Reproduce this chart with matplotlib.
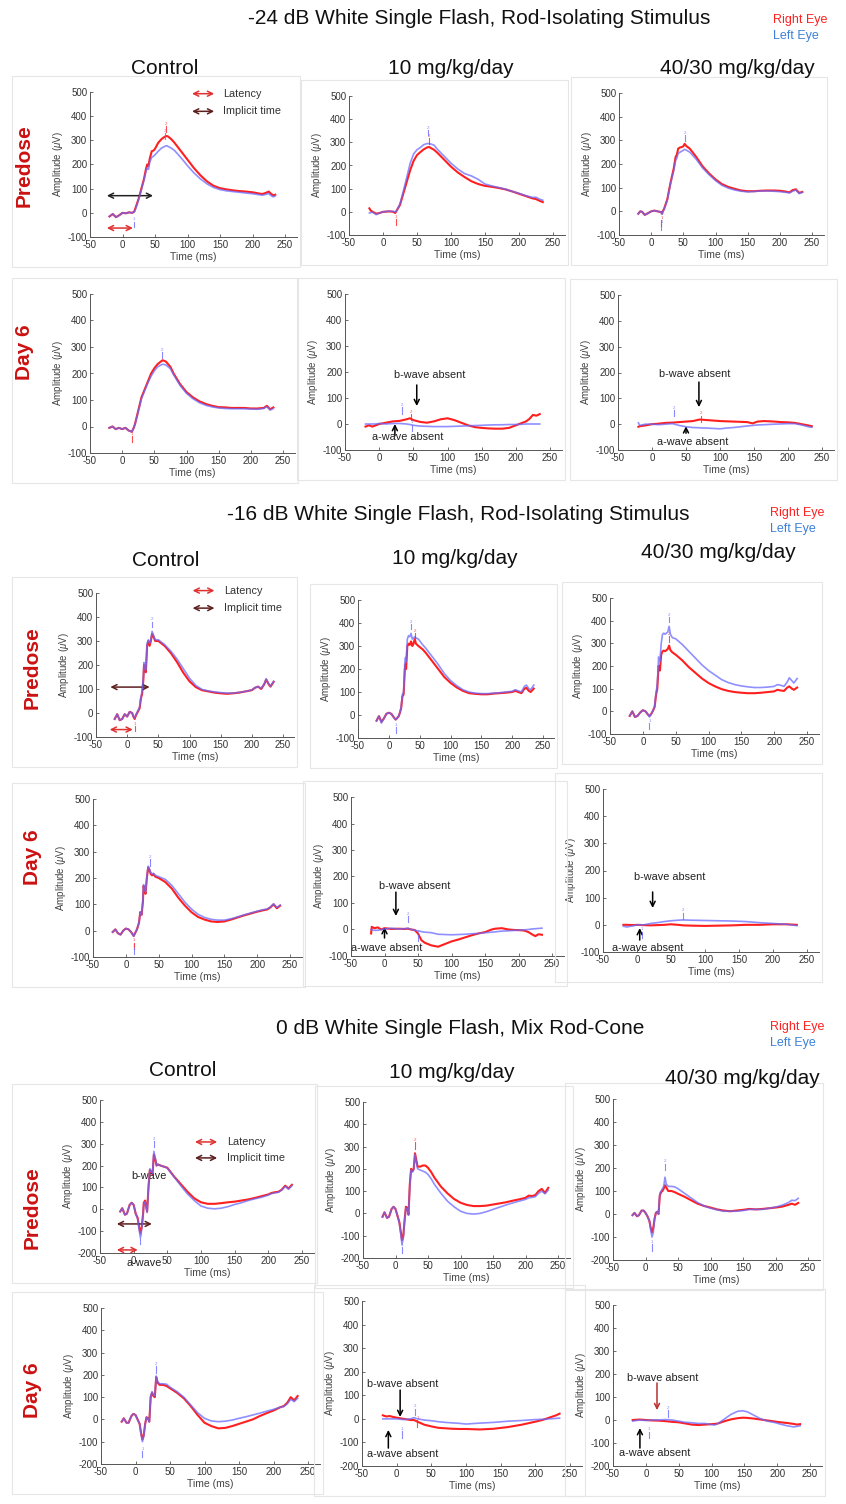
import matplotlib
matplotlib.use("Agg")
import matplotlib.pyplot as plt
from matplotlib.patches import Rectangle

plt.rcParams['font.family'] = ['Liberation Sans', 'DejaVu Sans']
plt.rcParams['mathtext.fontset'] = 'custom'
plt.rcParams['mathtext.it'] = 'Liberation Sans:italic'
plt.rcParams['mathtext.rm'] = 'Liberation Sans'
plt.rcParams['axes.unicode_minus'] = False

# ---------------- text content ----------------
SECTION_TITLES = ["-24 dB White Single Flash, Rod-Isolating Stimulus",
                  "-16 dB White Single Flash, Rod-Isolating Stimulus",
                  "0 dB White Single Flash, Mix Rod-Cone"]
GROUPS = ["Control", "10 mg/kg/day", "40/30 mg/kg/day"]
TIMEPOINTS = ["Predose", "Day 6"]
EYES = ["Right Eye", "Left Eye"]
X_TICKS = [-50, 0, 50, 100, 150, 200, 250]

# ---------------- data: rows of (time ms, right eye uV, left eye uV) ----------------
# Section 1: -24 dB rod-isolating
s1_predose_control = [(-20,-15,-15),(-15,-5,-5),(-10,-18,-18),(-5,-10,-10),(0,0,0),(5,-2,-2),(10,2,2),(15,0,0),
    (18,5,3),(20,20,15),(25,60,55),(30,110,105),(33,140,135),(36,180,170),(38,200,185),(40,195,180),(42,225,210),
    (45,255,230),(48,258,235),(50,265,240),(55,290,255),(60,305,268),(65,315,275),(68,318,278),(70,316,275),
    (75,305,268),(80,290,258),(90,255,228),(100,220,195),(110,185,165),(120,155,140),(130,130,120),(140,112,105),
    (150,102,96),(160,97,91),(170,93,88),(180,90,85),(190,88,82),(200,85,79),(210,80,75),(215,78,73),(220,82,76),
    (225,88,80),(228,80,72),(232,72,66),(235,75,70)]
s1_predose_10mg = [(-20,15,-5),(-18,5,-3),(-15,0,-2),(-10,-8,-12),(-5,-5,-5),(0,0,0),(10,2,3),(15,0,2),(18,-5,0),
    (20,5,3),(25,30,35),(30,80,90),(35,130,150),(40,180,210),(45,220,250),(50,245,268),(55,258,278),(60,270,290),
    (65,278,295),(68,280,294),(70,276,293),(75,268,288),(80,255,270),(90,225,240),(100,195,210),(110,170,185),
    (120,150,165),(130,132,155),(140,120,140),(150,112,120),(160,108,112),(170,103,105),(180,97,98),(190,88,88),
    (200,78,80),(210,68,70),(220,58,62),(225,55,63),(230,48,55),(235,42,50)]
s1_predose_4030mg = [(-20,-10,-10),(-17,0,0),(-14,-2,-2),(-10,-15,-15),(-5,-8,-8),(0,0,0),(5,3,3),(10,0,0),
    (15,-3,-3),(17,-10,-12),(18,0,-2),(20,10,8),(25,50,45),(30,120,115),(35,180,170),(38,230,215),(40,240,225),
    (42,265,245),(45,270,250),(48,272,255),(50,275,258),(52,285,262),(55,275,258),(60,265,250),(70,230,220),
    (80,190,183),(90,160,155),(100,135,130),(110,115,110),(120,103,98),(130,95,90),(140,88,85),(150,85,82),
    (160,85,84),(170,87,86),(180,88,86),(190,88,85),(200,87,83),(210,83,80),(215,80,78),(220,90,85),(225,93,90),
    (230,78,75),(235,82,80)]
s1_day6_control = [(-20,-5,-5),(-15,0,0),(-10,-10,-10),(-5,-5,-5),(0,-10,-10),(5,-5,-5),(10,-15,-15),(15,-20,-20),
    (18,-5,-5),(20,10,8),(25,60,55),(30,110,105),(35,140,135),(40,170,165),(45,200,190),(50,220,210),(55,235,225),
    (60,245,232),(63,250,235),(68,245,232),(75,225,218),(80,200,195),(90,160,155),(100,130,125),(110,110,105),
    (120,95,90),(130,85,80),(140,78,74),(150,73,70),(160,72,68),(170,70,67),(180,70,67),(190,70,67),(200,68,66),
    (210,68,65),(220,70,68),(225,78,75),(230,65,62),(235,72,68)]
s1_day6_10mg = [(-20,-10,0),(-15,-5,0),(-10,-10,0),(-5,-5,0),(0,0,2),(10,5,0),(20,10,2),(30,12,2),(40,18,0),
    (45,22,-2),(50,15,-5),(60,8,-8),(70,5,-9),(80,10,-10),(90,18,-10),(100,22,-10),(110,15,-9),(120,5,-8),
    (130,-5,-7),(140,-12,-6),(150,-15,-5),(160,-17,-4),(170,-18,-3),(180,-18,-3),(190,-15,-2),(200,-5,-2),
    (210,5,-1),(215,10,0),(220,20,0),(225,35,0),(230,32,0),(235,38,0)]
s1_day6_4030mg = [(-20,-10,5),(-18,-8,-5),(-10,-5,0),(0,0,0),(10,2,-2),(20,5,0),(30,6,2),(40,8,-5),(50,10,-10),
    (60,12,-13),(70,18,-14),(75,17,-15),(80,16,-15),(100,12,-18),(110,11,-15),(120,10,-13),(130,9,-10),(140,8,-7),
    (148,3,-5),(155,10,-3),(165,12,-2),(180,10,0),(190,8,1),(200,7,2),(210,5,2),(220,0,-3),(230,-5,-10),(235,-8,-12)]

# Section 2: -16 dB rod-isolating
s2_predose_control = [(-20,-25,-25),(-16,-5,-5),(-12,-30,-30),(-8,-25,-25),(-4,-5,-5),(0,-15,-15),(4,5,5),(8,0,0),
    (10,-15,-15),(12,-25,-20),(14,-10,-8),(17,5,8),(20,20,25),(22,60,65),(24,80,90),(26,140,150),(27,200,210),
    (28,180,190),(30,170,180),(32,280,290),(34,300,305),(36,280,290),(38,300,305),(40,330,340),(42,320,325),
    (45,300,305),(50,300,305),(55,290,295),(60,280,285),(70,250,258),(80,212,225),(90,168,185),(100,132,145),
    (110,108,115),(120,95,98),(130,90,92),(140,85,88),(150,82,85),(160,80,83),(170,82,83),(180,85,86),(190,90,90),
    (200,95,96),(205,105,106),(210,110,110),(215,100,102),(220,120,122),(223,140,142),(227,120,122),(230,110,112),
    (235,130,132)]
s2_predose_10mg = [(-20,-25,-25),(-16,-5,-5),(-12,-30,-35),(-8,-15,-15),(-4,5,5),(0,10,10),(4,5,5),(8,-10,-10),
    (11,-20,-20),(13,-15,-15),(16,-5,-5),(18,10,12),(20,30,35),(22,80,90),(24,90,100),(26,200,230),(27,220,250),
    (28,200,230),(30,300,330),(32,310,345),(34,305,340),(36,320,355),(38,300,330),(40,310,335),(42,330,340),
    (44,310,335),(48,300,330),(55,285,305),(60,270,290),(70,235,255),(80,200,220),(90,165,180),(100,140,150),
    (110,120,128),(120,105,110),(130,95,100),(140,92,95),(150,90,93),(160,90,93),(170,93,95),(180,95,97),
    (190,97,100),(200,100,103),(205,105,110),(210,100,105),(215,95,100),(220,115,125),(223,118,130),(227,105,115),
    (230,100,110),(235,115,130)]
s2_predose_4030mg = [(-20,-20,-20),(-16,0,0),(-12,-25,-25),(-8,-20,-20),(-4,-5,-5),(0,5,5),(4,0,0),(8,-15,-15),
    (10,-20,-25),(12,-15,-15),(15,0,0),(18,20,22),(20,70,80),(22,100,120),(24,200,240),(26,180,220),(28,250,300),
    (30,265,340),(32,268,345),(34,265,340),(36,270,345),(38,275,350),(40,290,375),(42,270,340),(45,260,325),
    (50,250,320),(60,225,295),(70,195,265),(80,170,235),(90,145,205),(100,125,180),(110,110,160),(120,98,140),
    (130,90,127),(140,85,118),(150,82,112),(160,80,108),(170,80,105),(180,82,105),(190,85,107),(200,88,110),
    (205,95,118),(210,92,115),(215,90,110),(220,105,130),(223,110,148),(227,100,135),(230,95,125),(235,105,145)]
s2_day6_control = [(-20,-5,-5),(-16,5,5),(-12,-10,-10),(-8,-15,-15),(-4,0,0),(0,8,8),(4,5,5),(8,-5,-5),
    (12,-20,-22),(14,-10,-10),(17,5,5),(20,30,30),(22,70,72),(24,60,62),(26,110,115),(27,170,175),(28,160,165),
    (30,140,145),(32,200,205),(34,240,245),(36,230,235),(38,215,220),(40,210,215),(42,215,218),(45,205,210),
    (50,200,205),(60,185,195),(70,160,172),(80,125,140),(90,95,108),(100,70,82),(110,52,62),(120,42,50),
    (130,35,43),(140,33,40),(150,35,40),(160,42,45),(170,50,52),(180,58,60),(190,65,67),(200,72,74),(210,78,80),
    (215,80,82),(220,88,90),(225,100,102),(230,85,88),(235,95,97)]
s2_day6_10mg = [(-20,-15,0),(-19,10,-2),(-15,5,-3),(-10,8,-3),(-5,0,0),(0,5,2),(10,2,5),(20,3,2),(30,2,3),
    (35,3,5),(40,0,0),(45,-2,-3),(50,-15,-5),(55,-40,-8),(60,-50,-10),(70,-60,-12),(80,-65,-18),(90,-55,-19),
    (100,-45,-20),(110,-38,-19),(120,-30,-18),(130,-22,-16),(140,-15,-15),(150,-10,-12),(160,0,-10),(165,3,-9),
    (175,5,-6),(185,0,-5),(195,-2,-3),(205,-3,-2),(210,-5,-1),(215,-10,0),(220,-18,2),(225,-25,3),(230,-18,4),
    (235,-20,5)]
s2_day6_4030mg = [(-20,0,-5),(-15,0,-8),(-5,-1,-3),(0,0,0),(10,-1,0),(20,-2,5),(30,-1,8),(40,0,12),(50,2,15),
    (60,0,17),(68,-2,18),(80,-3,17),(100,-4,16),(120,-3,15),(140,-2,14),(160,0,12),(180,0,8),(200,2,5),
    (220,2,2),(235,0,-3)]

# Section 3: 0 dB mixed rod-cone
s3_predose_control = [(-20,-10,-10),(-17,5,5),(-13,-25,-25),(-10,-20,-20),(-6,20,20),(-3,30,30),(0,20,20),
    (3,-20,-20),(6,-40,-45),(8,-80,-90),(10,-110,-130),(12,-80,-90),(14,-20,-25),(15,30,25),(17,40,35),(18,20,18),
    (20,-10,-15),(22,100,100),(24,180,185),(26,170,175),(28,160,165),(30,250,265),(32,230,235),(34,200,200),
    (36,205,205),(40,200,200),(45,195,195),(50,190,188),(55,170,168),(60,150,148),(70,115,108),(80,80,70),
    (90,50,40),(100,32,15),(110,25,5),(120,25,2),(130,28,5),(140,32,12),(150,35,22),(160,40,30),(170,45,40),
    (180,52,48),(190,60,55),(200,68,65),(205,75,72),(210,78,75),(215,80,78),(220,90,88),(225,108,105),
    (230,95,92),(235,112,108)]
s3_predose_10mg = [(-20,-15,-15),(-17,5,5),(-13,-20,-20),(-10,-15,-15),(-6,20,20),(-3,30,30),(0,20,20),
    (3,-10,-10),(6,-40,-45),(8,-80,-90),(10,-120,-140),(12,-100,-110),(14,-30,-35),(16,30,25),(18,25,20),
    (20,-5,-8),(22,130,125),(24,200,195),(26,190,185),(28,200,195),(30,270,265),(32,240,230),(34,210,200),
    (38,210,195),(42,215,190),(46,215,185),(50,205,175),(55,185,155),(60,160,130),(70,120,90),(80,90,55),
    (90,65,30),(100,48,10),(110,38,0),(120,33,-3),(130,33,0),(140,35,8),(150,40,18),(160,45,28),(170,50,38),
    (180,57,47),(190,63,55),(200,70,63),(205,80,70),(210,78,72),(215,82,75),(220,100,90),(225,110,100),
    (230,92,88),(235,115,105)]
s3_predose_4030mg = [(-20,-5,-5),(-17,5,5),(-13,-10,-10),(-10,-5,-5),(-6,15,15),(-3,15,15),(0,5,5),(3,-10,-10),
    (6,-30,-30),(8,-60,-70),(10,-80,-100),(12,-60,-80),(14,-20,-20),(16,5,5),(18,10,10),(20,0,0),(22,80,90),
    (24,95,100),(26,100,110),(28,110,120),(30,125,160),(32,115,130),(35,100,120),(40,100,120),(45,95,118),
    (50,88,110),(60,75,90),(70,60,70),(80,45,50),(90,35,35),(100,28,25),(110,20,18),(120,15,12),(130,12,12),
    (140,15,12),(150,18,15),(160,22,20),(170,20,20),(180,22,20),(190,25,25),(200,28,30),(210,32,38),(220,40,50),
    (225,45,60),(230,40,58),(235,48,68)]
s3_day6_control = [(-20,-10,-10),(-17,5,5),(-13,-15,-15),(-10,-15,-15),(-6,15,15),(-3,25,25),(0,20,20),(3,0,0),
    (6,-20,-20),(8,-60,-65),(10,-90,-100),(12,-70,-75),(14,-20,-20),(16,10,10),(18,5,5),(20,-10,-12),
    (22,100,105),(24,120,125),(26,105,110),(28,100,105),(30,190,195),(32,165,170),(35,155,160),(40,155,160),
    (45,150,158),(50,140,145),(60,120,125),(70,95,100),(80,60,65),(90,20,30),(100,-15,5),(110,-30,-7),
    (120,-40,-10),(130,-38,-8),(140,-30,-3),(150,-20,5),(160,-10,12),(170,0,20),(180,15,28),(190,28,37),
    (200,40,45),(210,55,55),(215,60,58),(220,75,70),(225,100,90),(230,85,80),(235,105,95)]
s3_day6_10mg = [(-20,15,0),(-15,10,0),(-10,12,0),(-5,8,0),(0,5,0),(10,0,-3),(20,-5,0),(25,-5,5),(30,-12,0),
    (40,-25,-5),(50,-32,-8),(60,-38,-12),(70,-40,-15),(80,-42,-17),(90,-43,-19),(100,-43,-22),(120,-45,-18),
    (140,-42,-15),(160,-35,-10),(180,-25,-7),(200,-12,-3),(210,-5,-2),(220,5,0),(225,10,1),(230,15,2),(235,22,3)]
s3_day6_4030mg = [(-20,0,-5),(-10,2,0),(0,0,-2),(10,-2,0),(20,-3,0),(30,-5,2),(40,-8,0),(50,-10,-5),(60,-15,-10),
    (70,-20,-12),(80,-22,-15),(90,-20,-15),(100,-18,-20),(105,-17,-22),(110,-15,-15),(120,-5,5),(130,3,25),
    (140,8,38),(148,10,40),(155,9,35),(165,6,20),(175,2,5),(185,-2,-5),(195,-6,-10),(205,-10,-18),(215,-13,-25),
    (225,-17,-30),(230,-20,-28),(235,-18,-25)]

# small peak markers: (time, amplitude, eye, marker number)
s1_marks = [[(67,350,'R','2'),(65,322,'L','2'),(17,-45,'L','1')],
            [(66,345,'L','2'),(67,308,'R','2'),(19,-42,'R','1')],
            [(52,312,'L','2'),(16,-45,'R','1'),(16,-62,'L','1')],
            [(62,272,'L','2'),(15,-45,'R','1')],
            [(33,55,'L','2'),(47,30,'R','2'),(48,-12,'L','1')],
            [(33,45,'L','2'),(72,24,'R','2')]]
s2_marks = [[(40,372,'L','2'),(12,-62,'R','1')],
            [(36,388,'L','2'),(42,348,'R','2'),(11,-62,'L','1')],
            [(40,408,'L','2'),(40,322,'R','2'),(10,-62,'L','1')],
            [(37,262,'L','2'),(13,-55,'R','1'),(13,-75,'L','1')],
            [(35,42,'L','2'),(50,-30,'L','1')],
            [(68,35,'L','2'),(7,-35,'L','1')]]
s3_marks = [[(30,302,'L','2'),(10,-140,'L','1')],
            [(30,308,'R','2'),(10,-162,'L','1')],
            [(30,208,'L','2'),(10,-142,'L','1')],
            [(30,228,'L','2'),(10,-152,'L','1')],
            [(26,32,'L','2'),(7,-62,'L','1'),(30,-16,'R','1')],
            [(33,32,'L','2'),(5,-62,'L','1')]]

# ---------------- styling / layout ----------------
RED = '#ff1f1f'
BLUE = '#6a6aff'
BROWN = '#5e1e1e'
DARKRED = '#b83030'
XMIN, XMAX = -50, 268

W, H = 846, 1504
fig = plt.figure(figsize=(W / 100, H / 100), dpi=100)
fig.patch.set_facecolor('white')


def fx(px):
    return px / W


def fy(py):
    return 1 - py / H


def draw_panel(pos, rows, ymin, marks, col):
    xm50, x250, y500, ybot = pos
    wpx = (x250 - xm50) * (XMAX - XMIN) / 300.0
    # faint frame of the pasted image
    left = 12 if col == 0 else xm50 - 48
    right = xm50 + wpx + 3
    fig.patches.append(Rectangle((fx(left), fy(ybot + 30)), (right - left) / W, (ybot - y500 + 46) / H,
                                 transform=fig.transFigure, fill=False, ec='#e6e6e6', lw=0.8, zorder=0))
    ax = fig.add_axes([fx(xm50), fy(ybot), wpx / W, (ybot - y500) / H])
    ax.patch.set_alpha(0)
    t = [r[0] for r in rows]
    right_eye = [r[1] for r in rows]
    left_eye = [r[2] for r in rows]
    ax.plot(t, right_eye, color=RED, lw=1.5, zorder=3)
    ax.plot(t, left_eye, color=BLUE, lw=1.2, alpha=0.75, zorder=4)
    ax.set_xlim(XMIN, XMAX)
    ax.set_ylim(ymin, 500)
    ax.set_xticks(X_TICKS)
    ax.set_yticks(list(range(ymin, 501, 100)))
    for s in ('top', 'right'):
        ax.spines[s].set_visible(False)
    for s in ('left', 'bottom'):
        ax.spines[s].set_color('#555555')
        ax.spines[s].set_linewidth(0.7)
    ax.tick_params(direction='in', length=2.5, width=0.6, labelsize=7, colors='#555555',
                   labelcolor='#333333', pad=2)
    ax.set_xlabel('Time (ms)', fontsize=7.5, color='#444444', labelpad=1.5)
    ax.set_ylabel('Amplitude ($\\mu$V)', fontsize=7, color='#444444', labelpad=2)
    span = 500 - ymin
    for (mt, mv, eye, num) in marks:
        c = RED if eye == 'R' else BLUE
        ax.plot([mt, mt], [mv - 0.025 * span, mv + 0.015 * span], color=c, lw=0.8, alpha=0.8, zorder=5)
        ax.text(mt, mv + 0.03 * span, num, fontsize=3.2, color=c, ha='center', va='center', alpha=0.8)
    return ax


def darrow(ax, x0, x1, y, color, lw=1.1):
    ax.annotate('', xy=(x1, y), xytext=(x0, y),
                arrowprops=dict(arrowstyle='<->', color=color, lw=lw, shrinkA=0, shrinkB=0, mutation_scale=9),
                annotation_clip=False)


def varrow(ax, x, y0, y1, color='black'):
    ax.annotate('', xy=(x, y1), xytext=(x, y0),
                arrowprops=dict(arrowstyle='->', color=color, lw=1.1, shrinkA=0, shrinkB=0, mutation_scale=9),
                annotation_clip=False)


def legend_arrows(ax, t0, t1, y_lat, y_imp, t_text):
    darrow(ax, t0, t1, y_lat, '#e03030')
    darrow(ax, t0, t1, y_imp, BROWN)
    ax.text(t_text, y_lat, 'Latency', fontsize=7.8, color='#333333', va='center', ha='left', clip_on=False)
    ax.text(t_text, y_imp, 'Implicit time', fontsize=7.8, color='#333333', va='center', ha='left', clip_on=False)


def absent_notes(ax, bt, by, bx, by0, by1, at, ay, ax_, ay0, ay1, bcolor='black'):
    ax.text(bt, by, 'b-wave absent', fontsize=7.8, color='#222222', ha='center', va='center')
    varrow(ax, bx, by0, by1, bcolor)
    varrow(ax, ax_, ay0, ay1, 'black')
    ax.text(at, ay, 'a-wave absent', fontsize=7.8, color='#222222', ha='center', va='center')


# section header helper
def header(title, ty, eye_x, eye_y, col_pos, row_pos):
    fig.text(fx(title[0]), fy(ty), title[1], fontsize=15, ha='center', va='center', color='#111111')
    fig.text(fx(eye_x), fy(eye_y), EYES[0], fontsize=9, color='#ff2020', ha='left', va='center')
    fig.text(fx(eye_x), fy(eye_y + 16), EYES[1], fontsize=9, color='#3d80d8', ha='left', va='center')
    for name, (cx, cy) in zip(GROUPS, col_pos):
        fig.text(fx(cx), fy(cy), name, fontsize=15, ha='center', va='center', color='#111111')
    for name, (rx, ry) in zip(TIMEPOINTS, row_pos):
        fig.text(fx(rx), fy(ry), name, fontsize=15, fontweight='bold', rotation=90,
                 ha='center', va='center', color='#cc1111')


COLS = [0, 1, 2, 0, 1, 2]

# ---------- Section 1 ----------
header((479, SECTION_TITLES[0]), 18, 773, 20, [(165, 69), (451, 69), (737, 69)], [(24, 166), (24, 352)])
s1_data = [s1_predose_control, s1_predose_10mg, s1_predose_4030mg, s1_day6_control, s1_day6_10mg, s1_day6_4030mg]
s1_pos = [(90, 285, 92, 237), (349, 553, 96, 235), (619, 812, 93, 235),
          (90, 283, 294, 453), (345, 550, 294, 450), (618, 822, 295, 450)]
s1_axes = [draw_panel(p, d, -100, m, c) for p, d, m, c in zip(s1_pos, s1_data, s1_marks, COLS)]
a = s1_axes[0]
legend_arrows(a, 107, 141, 493, 420, 155)
darrow(a, -24, 47, 71, '#222222')
darrow(a, -24, 16, -63, '#e03030')
absent_notes(s1_axes[4], 74, 190, 55, 150, 69, 42, -50, 23, -45, 0)
absent_notes(s1_axes[5], 63, 194, 69, 163, 66, 60, -68, 50, -35, -8)

# ---------- Section 2 ----------
header((458, SECTION_TITLES[1]), 514, 770, 513, [(166, 561), (455, 558), (718, 553)], [(32, 668), (32, 857)])
s2_data = [s2_predose_control, s2_predose_10mg, s2_predose_4030mg, s2_day6_control, s2_day6_10mg, s2_day6_4030mg]
s2_pos = [(96, 283, 593, 737), (358, 543, 600, 738), (610, 807, 598, 734),
          (93, 290, 799, 957), (351, 552, 797, 956), (603, 807, 789, 952)]
s2_axes = [draw_panel(p, d, -100, m, c) for p, d, m, c in zip(s2_pos, s2_data, s2_marks, COLS)]
a = s2_axes[0]
legend_arrows(a, 105, 140, 510, 437, 155)
darrow(a, -27, 36, 108, BROWN)
darrow(a, -28, 9, -69, '#e03030')
absent_notes(s2_axes[4], 45, 164, 17, 141, 51, 4, -70, 0, -32, 9)
absent_notes(s2_axes[5], 48, 176, 23, 121, 62, 16, -85, 4, -56, -12)

# ---------- Section 3 ----------
header((460, SECTION_TITLES[2]), 1028, 770, 1027, [(183, 1071), (452, 1072), (742, 1078)], [(32, 1208), (32, 1390)])
s3_data = [s3_predose_control, s3_predose_10mg, s3_predose_4030mg, s3_day6_control, s3_day6_10mg, s3_day6_4030mg]
s3_pos = [(100, 302, 1100, 1253), (363, 558, 1102, 1258), (613, 808, 1099, 1260),
          (101, 308, 1308, 1464), (362, 570, 1301, 1466), (613, 810, 1305, 1466)]
s3_axes = [draw_panel(p, d, -200, m, c) for p, d, m, c in zip(s3_pos, s3_data, s3_marks, COLS)]
a = s3_axes[0]
legend_arrows(a, 91, 124, 308, 235, 139)
darrow(a, -25, 27, -67, BROWN)
darrow(a, -25, 6, -186, '#e03030')
a.text(23, 152, 'b-wave', fontsize=7.8, color='#222222', ha='center', va='center')
a.text(15, -245, 'a-wave', fontsize=7.8, color='#222222', ha='center', va='center', clip_on=False)
absent_notes(s3_axes[4], 9, 148, 5, 122, 8, 8, -149, -12, -124, -47)
absent_notes(s3_axes[5], 25, 183, 17, 161, 43, 14, -143, -9, -122, -35, bcolor=DARKRED)

fig.savefig('out.png', dpi=100, facecolor='white')
